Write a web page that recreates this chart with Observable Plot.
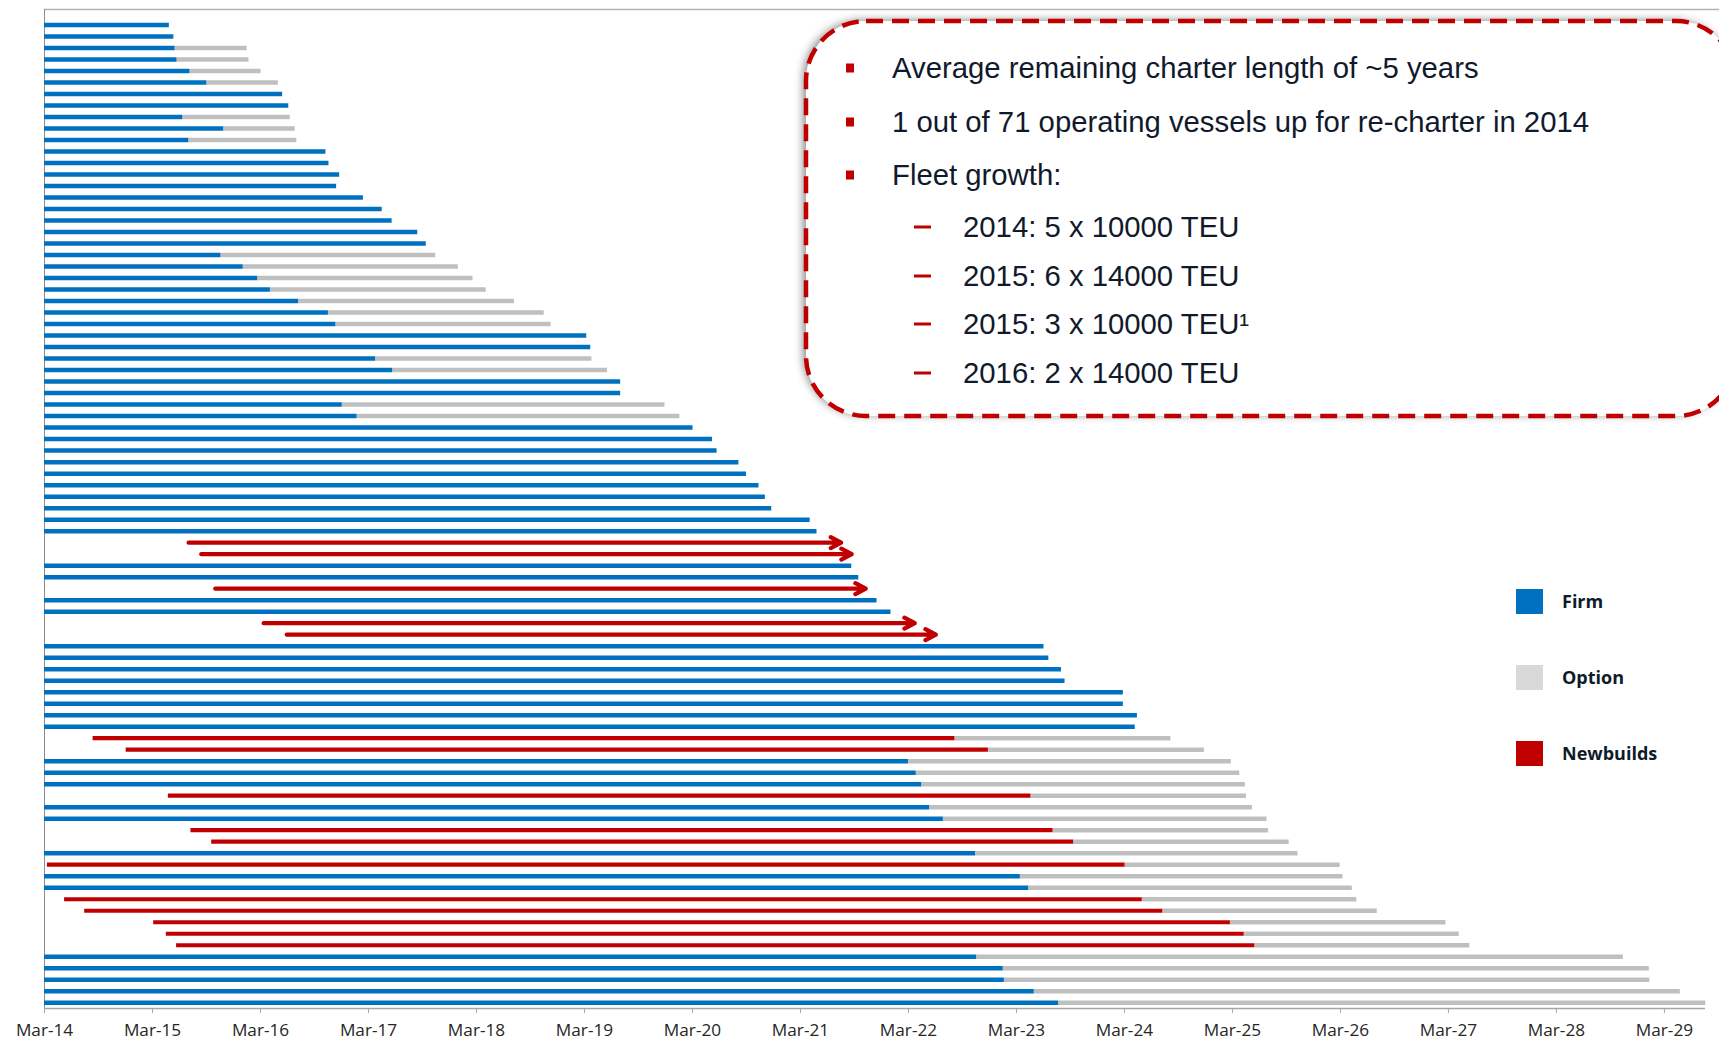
<!DOCTYPE html>
<html>
<head>
<meta charset="utf-8">
<script src="https://cdn.jsdelivr.net/npm/d3@7"></script>
<script src="https://cdn.jsdelivr.net/npm/@observablehq/plot@0.6"></script>
<style>
  body { margin: 0; background: #fff; }
  #wrap { position: relative; width: 1719px; height: 1044px; overflow: hidden; background: #fff; }
  #chart svg { display: block; }
  #boxsvg { position: absolute; left: 0; top: 0; pointer-events: none; }
  .ln { position: absolute; font-family: "Liberation Sans", Arial, sans-serif; font-size: 29.3px; color: #111a2c; white-space: nowrap; line-height: 1; transform: translateY(-50%); }
  .bul { position: absolute; width: 8px; height: 9px; background: #C00000; transform: translateY(-50%); }
  .dsh { position: absolute; width: 17px; height: 3px; background: #C00000; transform: translateY(-50%); }
  .sw { position: absolute; width: 27px; height: 25px; }
  .lg { position: absolute; font-family: "Open Sans", sans-serif; font-weight: 700; font-size: 18px; color: #0d1b2a; line-height: 1; transform: translateY(-50%); white-space: nowrap; }
</style>
</head>
<body>
<div id="wrap">
  <div id="chart"></div>
</div>
<script>
// ---------- data (years after Mar-14), top row first ----------
// F = firm charter (existing vessel), N = newbuild
const rowType = [
  "F","F","F","F","F","F","F","F","F","F",
  "F","F","F","F","F","F","F","F","F","F",
  "F","F","F","F","F","F","F","F","F","F",
  "F","F","F","F","F","F","F","F","F","F",
  "F","F","F","F","F","N","N","F","F","N",
  "F","F","N","N","F","F","F","F","F","F",
  "F","F","N","N","F","F","F","N","F","F",
  "N","N","F","N","F","F","N","N","N","N",
  "N","F","F","F","F","F"
];
const startYr = [
  0,0,0,0,0,0,0,0,0,0,
  0,0,0,0,0,0,0,0,0,0,
  0,0,0,0,0,0,0,0,0,0,
  0,0,0,0,0,0,0,0,0,0,
  0,0,0,0,0,1.334,1.451,0,0,1.581,
  0,0,2.029,2.243,0,0,0,0,0,0,
  0,0,0.45,0.756,0,0,0,1.147,0,0,
  1.356,1.548,0,0.027,0,0,0.186,0.372,1.011,1.128,
  1.223,0,0,0,0,0
];
const firmEnd = [
  1.156,1.198,1.209,1.227,1.347,1.503,2.205,2.262,1.28,1.659,
  1.336,2.606,2.634,2.733,2.705,2.953,3.127,3.219,3.456,3.535,
  1.634,1.84,1.974,2.092,2.352,2.629,2.698,5.021,5.058,3.065,
  3.224,5.335,5.335,2.757,2.895,6.005,6.186,6.228,6.43,6.5,
  6.616,6.675,6.734,7.09,7.153,7.377,7.475,7.475,7.54,7.605,
  7.709,7.838,8.059,8.254,9.255,9.3,9.417,9.45,9.99,9.99,
  10.12,10.10,8.43,8.74,8.0,8.072,8.123,9.134,8.195,8.323,
  9.339,9.529,8.621,10.006,9.036,9.113,10.165,10.355,10.981,11.109,
  11.207,8.631,8.877,8.888,9.165,9.39
];
const optionEnd = [
  null,null,1.875,1.893,2.006,2.166,null,null,2.276,2.322,
  2.336,null,null,null,null,null,null,null,null,null,
  3.623,3.832,3.968,4.09,4.351,4.627,4.691,null,null,5.069,
  5.213,null,null,5.745,5.883,null,null,null,null,null,
  null,null,null,null,null,null,null,null,null,null,
  null,null,null,null,null,null,null,null,null,null,
  null,null,10.43,10.74,10.99,11.068,11.12,11.13,11.186,11.32,
  11.335,11.525,11.607,11.997,12.023,12.11,12.151,12.341,12.977,13.1,
  13.198,14.619,14.86,14.865,15.147,15.383
];
const tickLabels = ["Mar-14","Mar-15","Mar-16","Mar-17","Mar-18","Mar-19","Mar-20","Mar-21",
                    "Mar-22","Mar-23","Mar-24","Mar-25","Mar-26","Mar-27","Mar-28","Mar-29"];
const legendLabels = ["Firm", "Option", "Newbuilds"];
const legendColors = ["#0070C0", "#D9D9D9", "#C00000"];
const bulletTexts = [
  "Average remaining charter length of ~5 years",
  "1 out of 71 operating vessels up for re-charter in 2014",
  "Fleet growth:"
];
const subTexts = [
  "2014: 5 x 10000 TEU",
  "2015: 6 x 14000 TEU",
  "2015: 3 x 10000 TEU\u00B9",
  "2016: 2 x 14000 TEU"
];

// ---------- chart ----------
const rows = rowType.map((t, i) => ({i, type: t, start: startYr[i], end: firmEnd[i], opt: optionEnd[i]}));
const nRows = rows.length;
const yTop = -1.35, yBot = nRows - 0.5;
const xMax = 15.51, axisEnd = 15.38;
const xTicks = tickLabels.map((_, k) => k);
const isArrow = d => d.type === "N" && d.opt == null;

const chart = Plot.plot({
  width: 1719,
  height: 1044,
  marginLeft: 44,
  marginRight: 0,
  marginTop: 9,
  marginBottom: 36,
  x: {domain: [0, xMax], axis: null},
  y: {domain: [yBot, yTop], axis: null},
  style: {fontFamily: "Open Sans, sans-serif", fontSize: "17.2px", background: "white"},
  marks: [
    Plot.ruleY([yTop], {stroke: "#b4b4b4", strokeWidth: 1.5}),
    Plot.ruleX([0], {y1: yTop, y2: yBot, stroke: "#8c8c8c", strokeWidth: 1}),
    Plot.ruleY([yBot], {x1: 0, x2: axisEnd, stroke: "#a6a6a6", strokeWidth: 1.3}),
    Plot.axisX(xTicks, {anchor: "bottom", tickFormat: d => tickLabels[d], tickSize: 5, tickPadding: 10,
      stroke: "#a6a6a6", fill: "#262626", fontSize: 17.2, label: null}),
    Plot.ruleY(rows.filter(d => d.opt != null), {y: "i", x1: "end", x2: "opt", stroke: "#BFBFBF", strokeWidth: 4.5}),
    Plot.ruleY(rows.filter(d => d.type === "F"), {y: "i", x1: "start", x2: "end", stroke: "#0070C0", strokeWidth: 4.5}),
    Plot.ruleY(rows.filter(d => d.type === "N" && !isArrow(d)), {y: "i", x1: "start", x2: "end", stroke: "#C00000", strokeWidth: 4.2}),
    Plot.arrow(rows.filter(isArrow), {
      x1: "start", x2: "end", y1: "i", y2: "i",
      stroke: "#C00000", strokeWidth: 4.2, headLength: 4.2, headAngle: 55})
  ]
});
document.getElementById("chart").append(chart);

// ---------- callout box ----------
const wrap = document.getElementById("wrap");
const NS = "http://www.w3.org/2000/svg";
const bs = document.createElementNS(NS, "svg");
bs.setAttribute("id", "boxsvg");
bs.setAttribute("width", 1719);
bs.setAttribute("height", 1044);
const defs = document.createElementNS(NS, "defs");
defs.innerHTML = '<filter id="sh" x="-10%" y="-10%" width="120%" height="120%"><feDropShadow dx="-3" dy="-1" stdDeviation="4" flood-color="#000" flood-opacity="0.45"/></filter>';
bs.append(defs);
const r = document.createElementNS(NS, "rect");
r.setAttribute("x", 806); r.setAttribute("y", 21);
r.setAttribute("width", 930); r.setAttribute("height", 395);
r.setAttribute("rx", 60); r.setAttribute("ry", 60);
r.setAttribute("fill", "#fff");
r.setAttribute("filter", "url(#sh)");
bs.append(r);
const r2 = r.cloneNode();
r2.removeAttribute("filter");
r2.setAttribute("fill", "none");
r2.setAttribute("stroke", "#C00000");
r2.setAttribute("stroke-width", 4.5);
r2.setAttribute("stroke-dasharray", "17 9");
bs.append(r2);
wrap.append(bs);

const bulletY = [68, 122, 175];
bulletTexts.forEach((t, k) => {
  const b = document.createElement("div");
  b.className = "bul"; b.style.left = "846px"; b.style.top = bulletY[k] + "px";
  wrap.append(b);
  const s = document.createElement("div");
  s.className = "ln"; s.style.left = "892px"; s.style.top = bulletY[k] + "px";
  s.textContent = t;
  wrap.append(s);
});
const subY = [227, 276, 324, 373];
subTexts.forEach((t, k) => {
  const b = document.createElement("div");
  b.className = "dsh"; b.style.left = "914px"; b.style.top = subY[k] + "px";
  wrap.append(b);
  const s = document.createElement("div");
  s.className = "ln"; s.style.left = "963px"; s.style.top = subY[k] + "px";
  s.textContent = t;
  wrap.append(s);
});

// ---------- legend ----------
const legTop = [589, 665, 741];
legendLabels.forEach((t, k) => {
  const sq = document.createElement("div");
  sq.className = "sw"; sq.style.left = "1516px"; sq.style.top = legTop[k] + "px";
  sq.style.background = legendColors[k];
  wrap.append(sq);
  const s = document.createElement("div");
  s.className = "lg"; s.style.left = "1562px"; s.style.top = (legTop[k] + 11.5) + "px";
  s.textContent = t;
  wrap.append(s);
});
</script>
</body>
</html>
